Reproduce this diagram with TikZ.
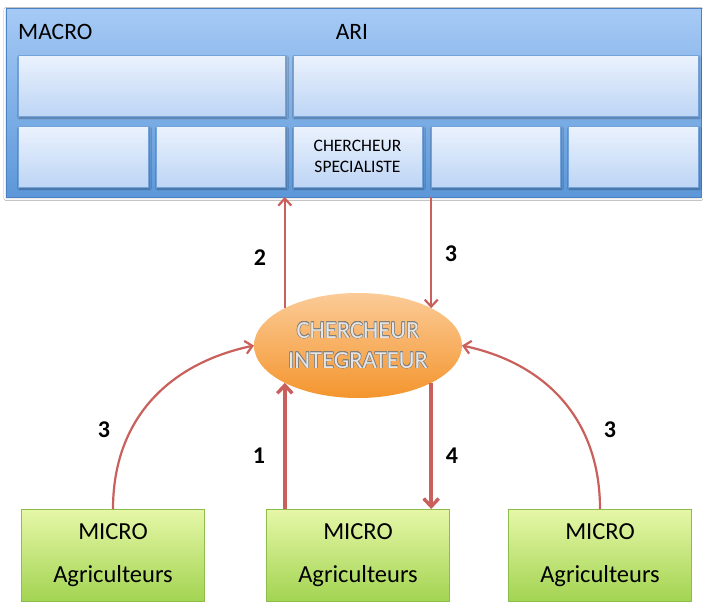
\documentclass[tikz,border=0pt]{standalone}
\usepackage{fontspec}
\setmainfont{Carlito}
\usepackage{contour}
\contourlength{0.45pt}
\usetikzlibrary{arrows.meta,shadows.blur,calc,shapes.geometric}
\definecolor{outtop}{HTML}{A6CAF5}
\definecolor{outbot}{HTML}{5C97D9}
\definecolor{outline}{HTML}{4B82C4}
\definecolor{intop}{HTML}{EBF2FD}
\definecolor{inbot}{HTML}{BDD5F5}
\definecolor{inline}{HTML}{74A3DA}
\definecolor{grtop}{HTML}{E6F7A8}
\definecolor{grbot}{HTML}{A3D452}
\definecolor{grline}{HTML}{8DBD4B}
\definecolor{ortop}{HTML}{FBCB97}
\definecolor{orbot}{HTML}{F4952E}
\definecolor{arrcol}{HTML}{C9605C}
\tikzset{
  outerbox/.style={draw=outline, line width=1pt, top color=outtop, bottom color=outbot, inner sep=0pt, outer sep=0pt,
    blur shadow={shadow xshift=0pt, shadow yshift=-1.5pt, shadow opacity=15, shadow blur steps=4, shadow blur radius=2pt}},
  cellbox/.style={draw=inline, line width=0.8pt, top color=intop, bottom color=inbot, inner sep=0pt, outer sep=0pt,
    blur shadow={shadow xshift=1.5pt, shadow yshift=-2pt, shadow opacity=35, shadow blur steps=4}, align=center,
    font=\fontsize{17.5}{21}\selectfont},
  microbox/.style={draw=grline, line width=0.8pt, top color=grtop, bottom color=grbot, inner sep=0pt, outer sep=0pt,
    minimum width=183pt, minimum height=92pt, align=center, font=\fontsize{24.5}{43}\selectfont},
  integ/.style={ellipse, top color=ortop, bottom color=orbot, draw=none, inner sep=0pt, outer sep=0pt,
    minimum width=208pt, minimum height=105pt, align=center, text=white!90!black, font=\fontsize{24.5}{30}\selectfont},
  arr/.style={draw=arrcol, line width=2.2pt, -{Straight Barb[length=7pt,width=13pt,line width=2.2pt]}},
  thickarr/.style={draw=arrcol, line width=3.4pt, -{Straight Barb[length=8pt,width=15pt,line width=3.4pt]}},
  num/.style={font=\fontsize{24}{26}\selectfont\bfseries, inner sep=0pt},
  toptext/.style={font=\fontsize{23.5}{26}\selectfont, inner sep=0pt}
}
\begin{document}
\begin{tikzpicture}[x=1pt,y=-1pt]
\useasboundingbox[fill=white] (0,0) rectangle (703,605);
% outer MACRO box
\node[outerbox, minimum width=695pt, minimum height=189pt] (O) at (353.5,102.5) {};
\node[toptext, anchor=west] (macro) at (18,32) {MACRO};
\node[toptext] (ari) at (352,32) {ARI};
% upper row
\node[cellbox, minimum width=267pt, minimum height=61pt] (u1) at (151.5,85.5) {};
\node[cellbox, minimum width=405pt, minimum height=61pt] (u2) at (495.5,85.5) {};
% lower row
\node[cellbox, minimum width=130pt, minimum height=61pt] (l1) at (83,156.5) {};
\node[cellbox, minimum width=129pt, minimum height=61pt] (l2) at (220.5,156.5) {};
\node[cellbox, minimum width=129pt, minimum height=61pt] (l3) at (357.5,156.5) {CHERCHEUR\\SPECIALISTE};
\node[cellbox, minimum width=129pt, minimum height=61pt] (l4) at (495.5,156.5) {};
\node[cellbox, minimum width=130pt, minimum height=61pt] (l5) at (633,156.5) {};
% integrator
\node[integ] (E) at (358,345.5) {\contour{black!50}{CHERCHEUR}\\\contour{black!50}{INTEGRATEUR}};
% micro boxes
\node[microbox] (m1) at (113,555) {MICRO\\Agriculteurs};
\node[microbox] (m2) at (358,555) {MICRO\\Agriculteurs};
\node[microbox] (m3) at (600,555) {MICRO\\Agriculteurs};
% arrows
\draw[arr] (E.153) -- (E.153 |- O.south);
\draw[arr] (E.27 |- O.south) -- (E.27);
\draw[thickarr] (E.207 |- m2.north) -- (E.207);
\draw[thickarr] (E.333) -- (E.333 |- m2.north);
\coordinate (lstart) at (m1.north);
\coordinate (rstart) at (m3.north);
\draw[arr] (lstart) to[out=90, in=192, looseness=1.05] (E.west);
\draw[arr] (rstart) to[out=90, in=-12, looseness=1.05] (E.east);
% numbers
\node[num] (n2) at (260,258) {2};
\node[num] (n3a) at (451,254) {3};
\node[num] (n3b) at (104,430) {3};
\node[num] (n1) at (259,456) {1};
\node[num] (n4) at (452,456) {4};
\node[num] (n3c) at (610,430) {3};
\end{tikzpicture}
\end{document}
